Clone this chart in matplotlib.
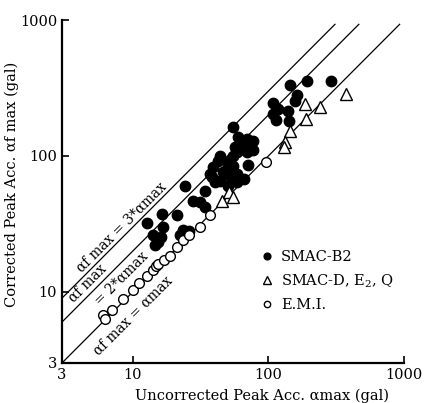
import matplotlib.pyplot as plt
import numpy as np

plt.rcParams['font.family'] = ['DejaVu Serif']
plt.rcParams['mathtext.fontset'] = 'dejavuserif'
plt.rcParams['xtick.direction'] = 'in'
plt.rcParams['ytick.direction'] = 'in'

# SMAC-B2 (filled circles)
b2_x = [289, 192, 144, 162, 157, 108, 117, 139, 108, 114, 142,
        54.7, 59.6, 69.3, 76.9, 61.6, 70.6, 76.9, 56.6, 69.3, 58.6,
        43.9, 54.7, 42.4, 50.2, 70.6, 54.7, 38.9, 49.4, 46.1, 37.0,
        52.0, 58.6, 38.3, 43.9, 40.3, 58.6, 50.2, 65.9, 24.2, 34.0,
        27.7, 31.2, 34.0, 16.4, 21.1, 12.7, 16.7, 23.4, 25.9, 14.0,
        16.1, 14.5, 15.3, 22.2]
b2_y = [359, 359, 330, 279, 252, 244, 220, 213, 203, 183, 180,
        163, 138, 133, 129, 118, 118, 111, 116, 107, 107,
        100, 100, 92, 90.4, 86, 84.5, 83.1, 80.4, 76.4, 73.9,
        71.5, 73.9, 70.3, 65.7, 64.6, 64.6, 60.4, 67.9, 60.4, 55.5,
        46.9, 46.2, 42.4, 37.7, 36.5, 31.9, 29.8, 28.4, 27.9, 26.1,
        25.2, 22.0, 23.2, 26.1]

# SMAC-D, E2, Q (open triangles)
d_x = [186, 240, 373, 189, 144, 132, 130, 45.4, 51.1, 54.7]
d_y = [240, 228, 284, 186, 152, 126, 116, 46.9, 54.6, 50.2]

# E.M.I. (open circles)
emi_x = [6.0, 6.2, 7.0, 8.4, 10, 11.1, 12.7, 14.1, 14.8, 15.3, 16.9,
         18.8, 21.1, 23.4, 25.9, 31.2, 37, 95.9]
emi_y = [6.8, 6.35, 7.3, 8.9, 10.3, 11.6, 13.1, 14.5, 15.5, 16.0, 17.1,
         18.3, 21.3, 24.0, 26.1, 29.8, 36.5, 90.4]

# reference lines af = k * amax
ratios = [1, 2, 3]
line_top = 930

fig = plt.figure(figsize=(4.35, 4.03), dpi=100)
ax = fig.add_axes([0.1425, 0.0993, 0.786, 0.851])

for k in ratios:
    xs = np.array([3, line_top / k])
    ax.plot(xs, k * xs, 'k-', linewidth=0.9)

ax.plot(b2_x, b2_y, 'o', color='black', markersize=7.5, linestyle='none',
        label='SMAC-B2')
ax.plot(d_x, d_y, '^', markerfacecolor='white', markeredgecolor='black',
        markeredgewidth=1.0, markersize=8, linestyle='none',
        label='SMAC-D, E$_2$, Q')
ax.plot(emi_x, emi_y, 'o', markerfacecolor='white', markeredgecolor='black',
        markeredgewidth=1.0, markersize=7, linestyle='none', label='E.M.I.')

ax.set_xscale('log')
ax.set_yscale('log')
ax.set_xlim(3, 1000)
ax.set_ylim(3, 1000)
ax.set_xticks([3, 10, 100, 1000])
ax.set_xticklabels(['3', '10', '100', '1000'])
ax.set_yticks([3, 10, 100, 1000])
ax.set_yticklabels(['3', '10', '100', '1000'])
ax.minorticks_off()
ax.tick_params(labelsize=10.5, length=5, width=1.2)
ax.spines['top'].set_visible(False)
ax.spines['right'].set_visible(False)
ax.spines['left'].set_linewidth(1.6)
ax.spines['bottom'].set_linewidth(1.6)

ax.set_xlabel('Uncorrected Peak Acc. αmax (gal)', fontsize=10.5)
ax.xaxis.set_label_coords(0.585, -0.075)
ax.set_ylabel('Corrected Peak Acc. αf max (gal)', fontsize=10.5)
ax.yaxis.set_label_coords(-0.125, 0.52)

# line labels
def fig_px(px, py):
    return px / 435, 1 - py / 403

fig.text(*fig_px(122, 227), 'αf max = 3*αmax', rotation=45, fontsize=9.8,
         ha='center', va='center')
fig.text(*fig_px(88, 283), 'αf max', rotation=45, fontsize=9.8,
         ha='center', va='center')
fig.text(*fig_px(121, 279), '= 2*αmax', rotation=45, fontsize=9.8,
         ha='center', va='center')
fig.text(*fig_px(133, 316), 'αf max = αmax', rotation=45, fontsize=9.8,
         ha='center', va='center')

# caption fragment cut by the top edge, as in the scan
fig.text(*fig_px(105, -4), 'of Corrected', fontsize=11, ha='left',
         va='center')

ax.legend(loc='upper left', bbox_to_anchor=(0.56, 0.35), frameon=False,
          fontsize=10.5, markerscale=0.65, handlelength=0.8,
          handletextpad=0.6, labelspacing=0.55, borderpad=0)

plt.savefig('out.png', dpi=100)
